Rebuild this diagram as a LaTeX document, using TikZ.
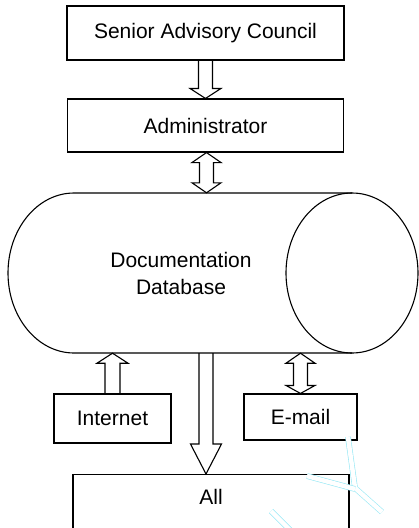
\documentclass[tikz,border=0pt]{standalone}
\usepackage{fontspec}
\setmainfont{Liberation Sans}
\usetikzlibrary{calc}
\definecolor{wm}{RGB}{150,232,245}
\tikzset{
  box/.style={draw, line width=1.1pt, inner sep=0pt, font=\fontsize{21}{25}\selectfont},
  blk/.style={draw, line width=1.1pt, line join=miter},
  lbl/.style={font=\fontsize{21}{27}\selectfont, inner sep=0pt},
  wmark/.style={draw=wm, line width=0.6pt, double=white, double distance=4.5pt}
}
% down arrow: #1 start (x taken from it), #2 tip (y), #3 head length
\newcommand{\arrdown}[3]{\draw[blk] let \p1=(#1),\p2=(#2) in
  (\x1-7pt,\y1) -- (\x1-7pt,\y2+#3) -- (\x1-15.5pt,\y2+#3) -- (\x1,\y2)
  -- (\x1+15.5pt,\y2+#3) -- (\x1+7pt,\y2+#3) -- (\x1+7pt,\y1);}
% up arrow: #1 start (bottom, x taken from it), #2 tip (y), #3 head length
\newcommand{\arrup}[3]{\draw[blk] let \p1=(#1),\p2=(#2) in
  (\x1-7.5pt,\y1) -- (\x1-7.5pt,\y2-#3) -- (\x1-15.5pt,\y2-#3) -- (\x1,\y2)
  -- (\x1+15.5pt,\y2-#3) -- (\x1+7.5pt,\y2-#3) -- (\x1+7.5pt,\y1);}
% double arrow: #1 top tip (x taken from it), #2 bottom tip (y), #3 top head, #4 bottom head
\newcommand{\arrboth}[4]{\draw[blk] let \p1=(#1),\p2=(#2) in
  (\x1,\y1) -- (\x1+14.5pt,\y1-#3) -- (\x1+7pt,\y1-#3) -- (\x1+7pt,\y2+#4)
  -- (\x1+14.5pt,\y2+#4) -- (\x1,\y2) -- (\x1-14.5pt,\y2+#4) -- (\x1-7pt,\y2+#4)
  -- (\x1-7pt,\y1-#3) -- (\x1-14.5pt,\y1-#3) -- cycle;}
\begin{document}
\begin{tikzpicture}[x=1pt,y=-1pt]
\path[use as bounding box, clip] (0,0) rectangle (419,528);

\node[box, minimum width=277pt, minimum height=54pt] (sac) at (205.5,33) {Senior Advisory Council};
\node[box, minimum width=276pt, minimum height=53pt] (adm) at (205.5,125.5) {Administrator};

% database cylinder
\node[draw=none, minimum width=410pt, minimum height=160pt, inner sep=0pt] (db) at (213,273) {};
\draw[line width=1.1pt] (352,193) -- (74,193) arc[start angle=90, end angle=270, x radius=66pt, y radius=80pt] -- (352,353);
\draw[line width=1.1pt] (352,273) ellipse[x radius=66pt, y radius=80pt];
\node[lbl, align=center] (dbt) at (181,273) {Documentation\\Database};

\node[box, minimum width=117pt, minimum height=49pt] (inet) at (112.5,418.5) {Internet};
\node[box, minimum width=113pt, minimum height=46pt] (mail) at (300.5,417) {E-mail};
\node[box, minimum width=276pt, minimum height=80pt, anchor=north] (all) at (211,474) {};
\node[lbl] (allt) at (211,497) {All};

% connectors
\arrdown{sac.south}{adm.north}{10pt}
\arrboth{$(adm.south)+(1,0)$}{db.north}{10pt}{10pt}
\arrup{inet.north}{db.south}{10pt}
\arrdown{$(adm.south |- db.south)+(0.5,0)$}{all.north}{30pt}
\arrboth{mail.north |- db.south}{mail.north}{10pt}{8pt}

% faint watermark strokes
\draw[wmark] (348,437) -- (355,488) -- (382,512);
\draw[wmark] (307,476) -- (355,489);
\draw[wmark] (271,511) -- (295,535);
\end{tikzpicture}
\end{document}
